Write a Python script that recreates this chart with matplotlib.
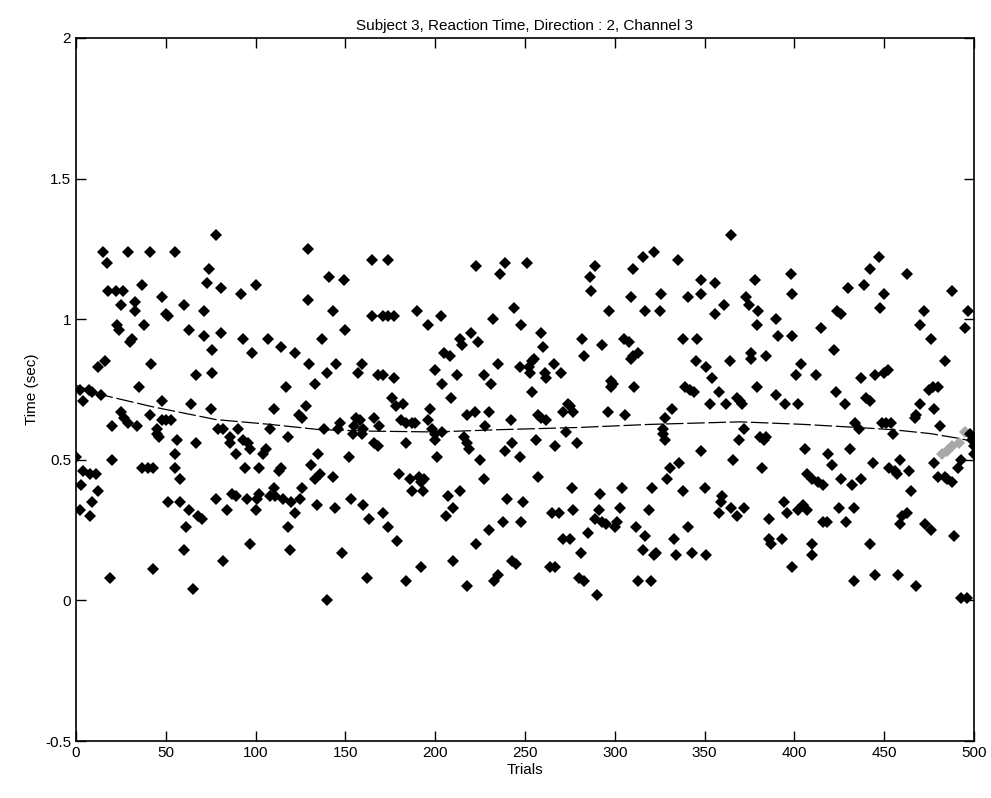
import matplotlib
matplotlib.use("Agg")
import matplotlib.pyplot as plt

plt.rcParams['font.family'] = ['Liberation Sans', 'DejaVu Sans']

# reaction times, split by stretch of trials
trial_a = [78, 15, 29, 41, 55, 17, 74, 73, 81, 37, 18, 22, 26, 48, 33, 25, 60, 33, 71, 50, 51, 23, 24, 38, 63, 71, 81, 30, 31, 76,
           16, 12, 42, 67, 76, 35, 2, 7, 9, 4, 14, 48, 64, 75, 25, 27, 29, 41, 34, 20, 48, 50, 53, 45, 45, 46, 79, 82, 56, 67,
           0, 20, 55, 37, 40, 43, 55, 4, 8, 11, 58, 3, 12, 51, 58, 63, 68, 70, 78, 9, 2, 8, 61, 60, 82, 43, 19, 65]
time_a = [1.30, 1.24, 1.24, 1.24, 1.24, 1.20, 1.18, 1.13, 1.11, 1.12, 1.10, 1.10, 1.10, 1.08, 1.06, 1.05, 1.05, 1.03, 1.03, 1.02, 1.01, 0.98, 0.96, 0.98, 0.96, 0.94, 0.95, 0.92, 0.93, 0.89,
          0.85, 0.83, 0.84, 0.80, 0.81, 0.76, 0.75, 0.75, 0.74, 0.71, 0.73, 0.71, 0.70, 0.68, 0.67, 0.65, 0.63, 0.66, 0.62, 0.62, 0.64, 0.64, 0.64, 0.61, 0.59, 0.58, 0.61, 0.61, 0.57, 0.56,
          0.51, 0.50, 0.52, 0.47, 0.47, 0.47, 0.47, 0.46, 0.45, 0.45, 0.43, 0.41, 0.39, 0.35, 0.35, 0.32, 0.30, 0.29, 0.36, 0.35, 0.32, 0.30, 0.26, 0.18, 0.14, 0.11, 0.08, 0.04]

trial_b = [129, 165, 141, 149, 100, 92, 129, 143, 165, 93, 107, 137, 150, 98, 114, 122, 130, 140, 145, 159, 157, 133, 117, 110, 128, 124, 126, 90, 108, 118,
           138, 147, 146, 156, 158, 155, 160, 154, 159, 166, 86, 86, 93, 96, 97, 89, 106, 104, 135, 152, 166, 94, 102, 114, 113, 131, 136, 133, 143, 126,
           87, 89, 95, 102, 101, 110, 108, 111, 115, 120, 125, 84, 100, 122, 134, 144, 153, 160, 163, 118, 97, 119, 148, 162, 140]
time_b = [1.25, 1.21, 1.15, 1.14, 1.12, 1.09, 1.07, 1.03, 1.01, 0.93, 0.93, 0.93, 0.96, 0.88, 0.90, 0.88, 0.84, 0.81, 0.84, 0.84, 0.81, 0.77, 0.76, 0.68, 0.69, 0.66, 0.65, 0.61, 0.61, 0.58,
          0.61, 0.63, 0.61, 0.65, 0.64, 0.62, 0.61, 0.59, 0.59, 0.65, 0.58, 0.56, 0.57, 0.56, 0.54, 0.52, 0.54, 0.52, 0.52, 0.51, 0.56, 0.47, 0.47, 0.47, 0.46, 0.48, 0.45, 0.43, 0.44, 0.40,
          0.38, 0.37, 0.36, 0.38, 0.36, 0.40, 0.37, 0.37, 0.36, 0.35, 0.36, 0.32, 0.32, 0.31, 0.34, 0.33, 0.36, 0.34, 0.29, 0.26, 0.20, 0.18, 0.17, 0.08, 0.00]

trial_c = [174, 223, 239, 236, 171, 174, 177, 190, 196, 203, 232, 244, 248, 220, 224, 214, 215, 205, 208, 235, 247, 168, 171, 177, 200, 212, 227, 231, 204, 209,
           176, 178, 182, 169, 181, 184, 187, 189, 197, 196, 198, 200, 204, 200, 218, 222, 230, 228, 242, 168, 184, 201, 216, 218, 219, 225, 243, 239, 247, 180,
           186, 191, 194, 192, 187, 193, 227, 214, 207, 210, 206, 240, 249, 171, 174, 179, 238, 248, 230, 223, 210, 192, 243, 245, 184, 235, 233, 218]
time_c = [1.21, 1.19, 1.20, 1.16, 1.01, 1.01, 1.01, 1.03, 0.98, 1.01, 1.00, 1.04, 0.98, 0.95, 0.92, 0.93, 0.91, 0.88, 0.87, 0.84, 0.83, 0.80, 0.80, 0.79, 0.82, 0.80, 0.80, 0.77, 0.77, 0.72,
          0.72, 0.69, 0.70, 0.62, 0.64, 0.63, 0.63, 0.63, 0.68, 0.64, 0.61, 0.59, 0.60, 0.57, 0.66, 0.67, 0.67, 0.62, 0.64, 0.55, 0.56, 0.51, 0.58, 0.56, 0.54, 0.50, 0.56, 0.53, 0.51, 0.45,
          0.43, 0.44, 0.43, 0.42, 0.39, 0.39, 0.43, 0.39, 0.37, 0.33, 0.30, 0.36, 0.35, 0.31, 0.26, 0.21, 0.28, 0.28, 0.25, 0.20, 0.14, 0.12, 0.14, 0.13, 0.07, 0.09, 0.07, 0.05]

trial_d = [251, 289, 286, 287, 310, 316, 322, 309, 326, 297, 317, 325, 259, 260, 282, 283, 293, 305, 308, 313, 310, 309, 255, 254, 252, 253, 266, 270, 261, 262,
           254, 298, 299, 298, 311, 274, 271, 277, 275, 257, 259, 262, 296, 306, 328, 332, 273, 327, 327, 328, 256, 267, 279, 257, 331, 329, 276, 292, 304, 321,
           265, 269, 277, 291, 289, 293, 295, 301, 300, 303, 319, 312, 271, 275, 285, 317, 281, 316, 323, 322, 264, 267, 280, 283, 290, 313, 320]
time_d = [1.20, 1.19, 1.15, 1.10, 1.18, 1.22, 1.24, 1.08, 1.09, 1.03, 1.03, 1.03, 0.95, 0.90, 0.93, 0.87, 0.91, 0.93, 0.92, 0.88, 0.87, 0.86, 0.86, 0.85, 0.83, 0.81, 0.84, 0.81, 0.81, 0.79,
          0.74, 0.78, 0.77, 0.76, 0.76, 0.70, 0.67, 0.67, 0.69, 0.66, 0.65, 0.64, 0.67, 0.66, 0.65, 0.68, 0.60, 0.61, 0.59, 0.57, 0.57, 0.55, 0.56, 0.44, 0.47, 0.43, 0.40, 0.38, 0.40, 0.40,
          0.31, 0.31, 0.32, 0.32, 0.29, 0.28, 0.27, 0.28, 0.26, 0.33, 0.32, 0.26, 0.22, 0.22, 0.24, 0.23, 0.17, 0.18, 0.17, 0.16, 0.12, 0.12, 0.08, 0.07, 0.02, 0.07, 0.07]

trial_e = [365, 335, 348, 356, 341, 348, 378, 398, 399, 361, 356, 373, 375, 380, 379, 390, 391, 399, 415, 338, 346, 345, 351, 364, 376, 376, 384, 404, 401, 412,
           354, 339, 342, 344, 358, 379, 390, 395, 402, 353, 362, 368, 370, 371, 372, 369, 381, 384, 383, 348, 366, 382, 406, 407, 410, 413, 416, 336, 338, 350,
           360, 359, 358, 365, 372, 368, 386, 394, 396, 405, 402, 407, 416, 341, 333, 386, 387, 393, 410, 410, 334, 343, 351, 399]
time_e = [1.30, 1.21, 1.14, 1.13, 1.08, 1.09, 1.14, 1.16, 1.09, 1.05, 1.02, 1.08, 1.05, 1.03, 0.98, 1.00, 0.94, 0.94, 0.97, 0.93, 0.93, 0.85, 0.83, 0.85, 0.88, 0.86, 0.87, 0.84, 0.80, 0.80,
          0.79, 0.76, 0.75, 0.74, 0.74, 0.76, 0.73, 0.70, 0.70, 0.70, 0.70, 0.72, 0.71, 0.70, 0.61, 0.57, 0.58, 0.58, 0.57, 0.53, 0.50, 0.47, 0.54, 0.45, 0.43, 0.42, 0.41, 0.49, 0.39, 0.40,
          0.37, 0.35, 0.31, 0.33, 0.33, 0.30, 0.29, 0.35, 0.31, 0.34, 0.32, 0.32, 0.28, 0.26, 0.22, 0.22, 0.20, 0.22, 0.20, 0.16, 0.16, 0.17, 0.16, 0.12]

trial_f = [447, 442, 430, 439, 450, 448, 463, 488, 424, 426, 472, 497, 470, 495, 476, 422, 484, 437, 445, 450, 452, 423, 428, 440, 442, 475, 480, 477, 470, 478,
           467, 468, 434, 436, 449, 451, 454, 455, 481, 498, 499, 500, 500, 419, 421, 431, 444, 453, 456, 459, 457, 464, 478, 480, 484, 485, 488, 491, 493, 426,
           432, 437, 465, 425, 433, 418, 429, 463, 460, 459, 473, 476, 489, 442, 433, 445, 458, 468, 493, 496]
time_f = [1.22, 1.18, 1.11, 1.12, 1.09, 1.04, 1.16, 1.10, 1.03, 1.02, 1.03, 1.03, 0.98, 0.97, 0.93, 0.89, 0.85, 0.79, 0.80, 0.81, 0.82, 0.74, 0.70, 0.72, 0.71, 0.75, 0.76, 0.76, 0.70, 0.68,
          0.65, 0.66, 0.63, 0.61, 0.63, 0.63, 0.63, 0.59, 0.62, 0.59, 0.57, 0.55, 0.52, 0.52, 0.48, 0.54, 0.49, 0.47, 0.46, 0.50, 0.45, 0.46, 0.49, 0.44, 0.44, 0.43, 0.42, 0.47, 0.50, 0.43,
          0.41, 0.43, 0.39, 0.33, 0.33, 0.28, 0.28, 0.31, 0.30, 0.27, 0.27, 0.25, 0.23, 0.20, 0.07, 0.09, 0.09, 0.05, 0.01, 0.01]

# faint grey markers near the end of the run
ghost_trial = [495, 492, 488, 485, 482]
ghost_time = [0.60, 0.56, 0.55, 0.53, 0.52]

# dashed trend curve
trend_trial = [0, 15, 43, 78, 108, 136, 164, 200, 235, 280, 320, 370, 405, 435, 455, 476, 490, 500]
trend_time = [0.765, 0.73, 0.688, 0.643, 0.626, 0.607, 0.602, 0.599, 0.607, 0.615, 0.626, 0.635, 0.626, 0.615, 0.607, 0.593, 0.578, 0.565]

x_ticks = [0, 50, 100, 150, 200, 250, 300, 350, 400, 450, 500]
y_ticks = [-0.5, 0, 0.5, 1, 1.5, 2]
y_tick_labels = ["-0.5", "0", "0.5", "1", "1.5", "2"]

trials = trial_a + trial_b + trial_c + trial_d + trial_e + trial_f
times = time_a + time_b + time_c + time_d + time_e + time_f

fig = plt.figure(figsize=(9.91, 7.98), dpi=100)
ax = fig.add_axes([0.0767, 0.0714, 0.906, 0.881])

ax.plot(trend_trial, trend_time, color="black", linewidth=0.9, linestyle=(0, (14, 3)))
ax.plot(ghost_trial, ghost_time, linestyle="none", marker="D", markersize=6.5,
        color="#a8a8a8", markeredgewidth=0)
ax.plot(trials, times, linestyle="none", marker="D", markersize=5.8,
        color="black", markeredgewidth=0)

ax.set_xlim(0, 500)
ax.set_ylim(-0.5, 2)
ax.set_xticks(x_ticks)
ax.set_yticks(y_ticks)
ax.set_yticklabels(y_tick_labels)
ax.tick_params(direction="in", length=7, width=1, top=True, right=True, labelsize=11)
for side in ax.spines.values():
    side.set_linewidth(1.2)

ax.set_title("Subject 3, Reaction Time, Direction : 2, Channel 3", fontsize=11)
ax.set_xlabel("Trials", fontsize=11, labelpad=2)
ax.set_ylabel("Time (sec)", fontsize=11)

fig.savefig("out.png", dpi=100)
